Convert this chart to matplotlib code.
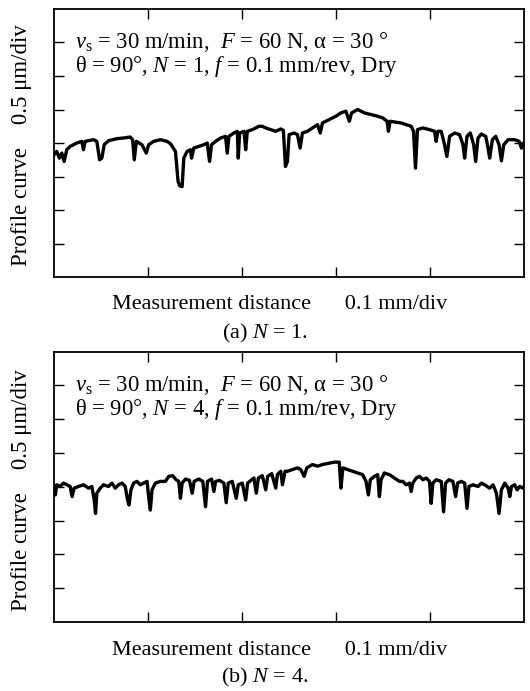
import matplotlib
matplotlib.use("Agg")
import matplotlib.pyplot as plt

plt.rcParams['font.family'] = ['Liberation Serif', 'DejaVu Serif']
plt.rcParams['mathtext.fontset'] = 'custom'
plt.rcParams['mathtext.rm'] = 'Liberation Serif'
plt.rcParams['mathtext.it'] = 'Liberation Serif:italic'

# profile (a) N = 1 : distance in um, height in um
xa = [0, 2.8, 5.7, 8.2, 10.7, 13.5, 17.1, 24.2, 29.5, 31.3, 33.1, 42.0, 45.5, 48.4,
      50.8, 53.3, 57.9, 66.8, 73.9, 81.0, 83.6, 85.3, 87.5, 93.5, 98.1, 100.6, 106.0,
      113.1, 120.2, 123.8, 129.1, 131.9, 133.7, 136.2, 138.0, 141.5, 145.1, 146.2,
      148.6, 154.0, 159.3, 162.9, 165.4, 167.5, 171.8, 177.1, 182.4, 184.2, 186.0,
      191.3, 194.9, 195.9, 197.4, 202.0, 203.8, 205.5, 210.9, 218.0, 221.5, 225.1,
      230.4, 235.8, 241.1, 243.9, 246.1, 248.2, 250.0, 255.3, 258.9, 261.7, 264.2,
      269.5, 274.9, 280.2, 283.1, 285.5, 292.7, 299.8, 305.1, 310.4, 314.0, 316.5,
      322.9, 330.0, 337.1, 344.2, 349.6, 354.2, 355.6, 357.4, 363.8, 369.1, 374.4,
      379.8, 382.3, 384.4, 386.5, 392.2, 399.3, 404.7, 406.4, 408.2, 411.8, 415.3,
      417.8, 420.7, 426.0, 431.3, 434.9, 436.7, 439.2, 442.7, 446.3, 448.4, 450.9,
      454.5, 459.1, 461.6, 463.3, 466.2, 469.7, 473.3, 475.8, 478.3, 482.9, 490.0,
      494.6, 497.1, 498.9, 500]
ya = [-0.175, -0.125, -0.225, -0.15, -0.275, -0.10, -0.05, 0, 0.025, -0.10, 0.025,
      0.05, 0.025, -0.25, -0.225, -0.025, 0.035, 0.065, 0.075, 0.09, 0.05, -0.25,
      0.025, -0.025, -0.15, -0.025, 0.025, 0.05, 0.025, -0.01, -0.125, -0.575, -0.64,
      -0.65, -0.225, -0.125, -0.10, -0.225, -0.075, -0.05, -0.025, 0, -0.275, -0.025,
      0.025, 0.075, 0.10, -0.15, 0.10, 0.15, 0.175, -0.225, 0.15, 0.175, -0.10, 0.175,
      0.20, 0.25, 0.25, 0.225, 0.20, 0.175, 0.21, 0.19, -0.35, -0.275, 0.125, 0.15,
      0.125, -0.075, 0.15, 0.175, 0.225, 0.275, 0.15, 0.30, 0.35, 0.40, 0.45, 0.475,
      0.325, 0.45, 0.50, 0.45, 0.425, 0.40, 0.375, 0.325, 0.175, 0.325, 0.31, 0.30,
      0.275, 0.25, 0.175, -0.375, 0.20, 0.225, 0.20, 0.175, 0.025, 0.175, 0.175,
      -0.025, -0.20, 0.10, 0.15, 0.125, -0.025, -0.225, 0.10, 0.15, -0.025, -0.275,
      0.075, 0.135, 0.10, -0.075, -0.225, 0.05, 0.10, -0.025, -0.265, -0.025, 0.05,
      0.05, 0.025, -0.075, 0, 0]

# profile (b) N = 4
xb = [0, 1.4, 2.8, 6.4, 10.0, 13.5, 17.1, 19.2, 21.3, 26.0, 31.3, 36.6, 40.2, 42.7,
      44.1, 45.5, 49.1, 52.6, 58.0, 61.5, 65.1, 68.6, 72.2, 75.7, 78.2, 79.7, 81.8,
      84.6, 88.2, 91.7, 95.3, 98.9, 101.0, 102.4, 104.2, 107.7, 113.1, 118.4, 122.0,
      126.2, 129.8, 132.6, 134.4, 136.2, 139.8, 144.0, 146.9, 149.0, 154.0, 158.2,
      161.1, 163.2, 167.5, 170.0, 171.8, 176.0, 180.6, 183.1, 185.3, 189.5, 193.8,
      195.9, 200.2, 203.8, 205.9, 210.2, 212.6, 215.1, 217.3, 221.5, 225.1, 227.2,
      231.5, 235.8, 237.5, 241.1, 242.9, 245.7, 248.2, 253.5, 258.9, 262.4, 266.0,
      268.8, 274.9, 280.2, 285.5, 290.9, 298.0, 303.3, 305.1, 307.2, 312.2, 317.6,
      322.9, 328.2, 331.8, 334.3, 336.4, 340.7, 344.2, 346.0, 347.8, 351.3, 356.7,
      362.0, 367.3, 370.9, 374.4, 378.0, 379.8, 381.6, 385.1, 388.7, 392.2, 395.8,
      399.3, 401.1, 402.9, 406.4, 411.8, 414.3, 416.4, 420.0, 424.2, 427.1, 429.2,
      433.1, 436.7, 439.2, 441.3, 445.6, 450.9, 454.5, 458.0, 463.3, 466.9, 470.5,
      473.3, 475.8, 479.4, 482.9, 484.7, 486.5, 490.0, 492.5, 495.3, 498.9, 500]
yb = [0.005, -0.12, 0.03, 0.005, 0.055, 0.03, 0.005, -0.145, -0.02, 0.005, 0.03,
      -0.02, 0.005, -0.195, -0.395, -0.095, -0.02, 0.03, 0.005, 0.055, -0.02, 0.03,
      0.055, 0.005, -0.195, -0.27, -0.045, 0.055, 0.08, 0.03, 0.055, 0.08, -0.195,
      -0.345, -0.045, 0.055, 0.08, 0.08, 0.155, 0.165, 0.105, 0.08, -0.17, 0.055,
      0.115, 0.095, -0.095, 0.08, 0.115, 0.08, -0.295, 0.08, 0.115, -0.07, 0.08,
      0.095, 0.055, -0.235, 0.055, 0.08, -0.17, 0.03, 0.055, -0.195, 0.055, 0.105,
      0.13, -0.095, 0.13, 0.165, -0.045, 0.155, 0.195, -0.02, 0.18, 0.23, 0.03, 0.23,
      0.23, 0.255, 0.28, 0.255, 0.155, 0.28, 0.33, 0.305, 0.33, 0.345, 0.365, 0.365,
      -0.02, 0.28, 0.255, 0.23, 0.205, 0.18, 0.08, -0.12, 0.105, 0.155, 0.18, -0.145,
      0.105, 0.205, 0.18, 0.13, 0.08, 0.08, 0.03, 0.055, -0.07, 0.055, 0.13, 0.155,
      0.105, 0.13, 0.08, -0.245, 0.055, 0.105, 0.08, -0.37, 0.055, 0.105, 0.08,
      -0.145, 0.055, 0.08, 0.055, -0.32, 0.005, 0.03, 0.005, 0.055, 0.03, -0.02, 0.03,
      -0.095, -0.395, -0.045, 0.055, -0.02, -0.145, 0.005, 0.03, -0.045, 0.005,
      -0.02, 0.005]

panels = [
    (xa, ya, 1, "(a) $N$ = 1."),
    (xb, yb, 4, "(b) $N$ = 4."),
]

fig = plt.figure(figsize=(5.3, 6.91), dpi=100)
ax_boxes = [[0.102, 0.599, 0.887, 0.388], [0.102, 0.100, 0.887, 0.391]]
label_y = [(0.790, 0.559, 0.518), (0.291, 0.059, 0.019)]

for (x, y, n, cap), box, (yl, xl, cy) in zip(panels, ax_boxes, label_y):
    ax = fig.add_axes(box)
    ax.plot(x, y, color='black', lw=2.4, solid_joinstyle='round')
    ax.set_xlim(0, 500)
    ax.set_ylim(-2, 2)
    ax.set_xticks([100, 200, 300, 400])
    ax.set_yticks([-1.5, -1, -0.5, 0, 0.5, 1, 1.5])
    ax.tick_params(direction='in', length=7, width=1, top=True, right=True,
                   labelbottom=False, labelleft=False)
    for s in ax.spines.values():
        s.set_linewidth(1.3)
    # condition text, two lines
    ax.text(0.045, 0.878, "$v_\\mathrm{s}$ = 30 m/min,  $F$ = 60 N, α = 30 °",
            transform=ax.transAxes, fontsize=16.3, va='center', ha='left')
    ax.text(0.045, 0.787, "θ = 90°, $N$ = %d, $f$ = 0.1 mm/rev, Dry" % n,
            transform=ax.transAxes, fontsize=16.3, va='center', ha='left')
    fig.text(0.041, yl, "Profile curve    0.5 μm/div", rotation=90,
             fontsize=16.5, ha='center', va='center')
    fig.text(0.528, xl, "Measurement distance      0.1 mm/div",
             fontsize=16, ha='center', va='center')
    fig.text(0.5, cy, cap, fontsize=16, ha='center', va='center')

fig.savefig("out.png", dpi=100)
